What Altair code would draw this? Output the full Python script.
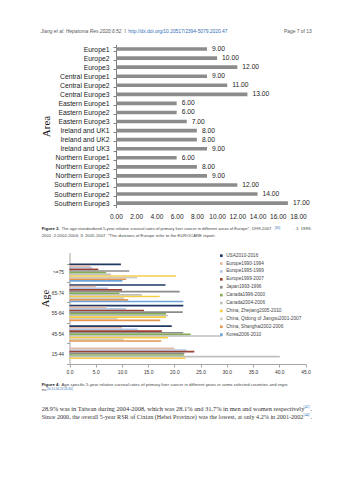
import altair as alt
import pandas as pd

# ---------------- Figure 3 data ----------------
areas = ["Europe1", "Europe2", "Europe3",
         "Central Europe1", "Central Europe2", "Central Europe3",
         "Eastern Europe1", "Eastern Europe2", "Eastern Europe3",
         "Ireland and UK1", "Ireland and UK2", "Ireland and UK3",
         "Northern Europe1", "Northern Europe2", "Northern Europe3",
         "Southern Europe1", "Southern Europe2", "Southern Europe3"]
area_rsr = [9, 10, 12, 9, 11, 13, 6, 6, 7, 8, 8, 9, 6, 8, 9, 12, 14, 17]
fig3_ticks = [0, 2, 4, 6, 8, 10, 12, 14, 16, 18]

# ---------------- Figure 4 data ----------------
age_groups = [">=75", "65-74", "55-64", "45-54", "15-44"]
series_names = ["USA2010-2016", "Europe1990-1994", "Europe1995-1999", "Europe1999-2007",
                "Japan1993-1996", "Canada1996-2000", "Canada2004-2006",
                "China, Zhejiang2005-2010", "China, Qidong of Jiangsu2001-2007",
                "China, Shanghai2002-2006", "Korea2006-2010"]
usa_2010 = [9.8, 18.3, 21.7, 19.5, None]
europe_1990 = [4.0, 5.0, 7.0, 10.0, 20.0]
europe_1995 = [4.3, 7.3, 10.8, 13.0, 22.3]
europe_1999 = [5.5, 10.0, 14.2, 17.6, 23.8]
japan_1993 = [11.4, 21.0, 21.6, 21.7, 21.9]
canada_1996 = [7.0, 9.5, 18.4, 23.1, 21.8]
canada_2004 = [7.9, 13.8, 18.8, 29.0, 40.1]
zhejiang_2005 = [20.3, 17.2, 18.4, 18.8, 22.1]
qidong_2001 = [12.9, 10.4, 9.2, 10.3, None]
shanghai_2002 = [10.8, 11.2, 17.3, 17.5, None]
korea_2006 = [10.1, 21.7, None, None, None]
series_colors = ["#203864", "#E6B9A0", "#B4C7E7", "#9A4332", "#8C8C8C", "#83AE56",
                 "#BFBFBF", "#F4CE45", "#D0CCC0", "#E39650", "#6FA3D8"]
fig4_ticks = [0, 5, 10, 15, 20, 25, 30, 35, 40, 45]

# ---------------- Page text ----------------
header_left = "Jiang et al. Hepatoma Res 2020;6:52"
header_sep = "I"
header_url = "http://dx.doi.org/10.20517/2394-5079.2020.47"
header_page = "Page 7 of 13"
fig3_cap_bold = "Figure 3."
fig3_cap_1 = "The age-standardized 5-year relative survival rates of primary liver cancer in different areas of Europe*, 1999-2007"
fig3_cap_ref = "[36]"
fig3_cap_1b = ". 1: 1999-"
fig3_cap_2 = "2001; 2:2002-2004; 3: 2005-2007. *The divisions of Europe refer to the EUROCARE report."
fig4_cap_bold = "Figure 4."
fig4_cap_1 = "Age-specific 5-year relative survival rates of primary liver cancer in different years in some selected countries and regio"
fig4_cap_2 = "ns"
fig4_cap_ref = "[10,15,16,23,26-30]"
body_1 = "28.9% was in Taiwan during 2004-2008, which was 28.1% and 31.7% in men and women respectively"
body_1_ref = "[43]"
body_2 = "Since 2000, the overall 5-year RSR of Cixian (Hebei Province) was the lowest, at only 4.2% in 2001-2002"
body_2_ref = "[44]"

SANS = "Liberation Sans"
SERIF = "Liberation Serif"
PAGE_H = 480

# ---------------- Figure 3 ----------------
fig3_df = pd.DataFrame({"area": areas, "rsr": area_rsr})
x3_scale = alt.Scale(domain=[0, 18], range=[116, 298], nice=False, zero=True)
y3_scale = alt.Scale(range=[44.5, 207.6], paddingInner=0.6, paddingOuter=0.3)
x3 = alt.X("rsr:Q", scale=x3_scale,
           axis=alt.Axis(orient="bottom", offset=207.6 - PAGE_H, values=fig3_ticks,
                         format=".2f", domain=False, ticks=False, grid=False,
                         labelOverlap=False, labelFlush=False,
                         labelPadding=6, labelFontSize=6.6, labelFont=SANS,
                         labelColor="#222222", title=None))
y3 = alt.Y("area:N", sort=areas, scale=y3_scale,
           axis=alt.Axis(orient="left", offset=-116, grid=False, tickBand="extent",
                         tickSize=3, tickColor="#7F7F7F", domainColor="#7F7F7F",
                         labelFont=SANS, labelFontSize=6.8, labelColor="#222222",
                         labelPadding=4, labelOverlap=False,
                         title="Area", titleFont=SERIF, titleFontSize=11,
                         titleFontWeight="normal", titleColor="#111111",
                         titleAngle=-90, titleX=-65, titleY=126))

bars3 = alt.Chart(fig3_df).mark_bar(color="#8C8C8C").encode(x=x3, y=y3)
labels3 = alt.Chart(fig3_df).mark_text(
    align="left", baseline="middle", dx=5, fontSize=6.7, font=SANS, color="#222222"
).encode(x=x3, y=y3, text=alt.Text("rsr:Q", format=".2f"))
fig3 = alt.layer(bars3, labels3)

# ---------------- Figure 4 ----------------
series_values = [usa_2010, europe_1990, europe_1995, europe_1999, japan_1993,
                 canada_1996, canada_2004, zhejiang_2005, qidong_2001,
                 shanghai_2002, korea_2006]
rows = []
for name, vals in zip(series_names, series_values):
    for age, v in zip(age_groups, vals):
        if v is not None:
            rows.append({"age": age, "series": name, "rsr": v})
fig4_df = pd.DataFrame(rows)

fig4 = alt.Chart(fig4_df).mark_bar().encode(
    x=alt.X("rsr:Q", scale=alt.Scale(domain=[0, 45], range=[69.5, 305.5], nice=False),
            axis=alt.Axis(orient="bottom", offset=364 - PAGE_H, values=fig4_ticks,
                          format=".1f", grid=False, tickSize=3, tickColor="#A6A6A6",
                          domainColor="#A6A6A6", labelPadding=2, labelFontSize=4.9,
                          labelOverlap=False, labelFlush=False,
                          labelFont=SANS, labelColor="#333333", title=None)),
    y=alt.Y("age:N", sort=age_groups,
            scale=alt.Scale(range=[252.5, 364], paddingInner=0.12, paddingOuter=0.27, align=1),
            axis=alt.Axis(orient="left", offset=-69.5, grid=False, tickBand="extent",
                          tickSize=3, tickColor="#A6A6A6", domainColor="#A6A6A6",
                          labelFont=SANS, labelFontSize=4.8, labelColor="#333333",
                          labelPadding=3,
                          title="Age", titleFont=SERIF, titleFontSize=10.5,
                          titleFontWeight="normal", titleColor="#111111",
                          titleAngle=-90, titleX=-19, titleY=298)),
    yOffset=alt.YOffset("series:N", sort=series_names,
                        scale=alt.Scale(domain=series_names, paddingInner=0, paddingOuter=0)),
    color=alt.Color("series:N", sort=series_names,
                    scale=alt.Scale(domain=series_names, range=series_colors),
                    legend=alt.Legend(orient="none", legendX=219, legendY=253.3, title=None,
                                      labelFontSize=4.7, labelFont=SANS, labelColor="#444444",
                                      symbolType="square", symbolSize=7, symbolStrokeWidth=0,
                                      rowPadding=1.9, labelOffset=2.5, padding=0,
                                      labelLimit=200)),
)


# ---------------- Text helper ----------------
def text_at(s, x, y, size, color="#333333", font=SANS, weight="normal",
            style="normal", align="left"):
    return alt.Chart(pd.DataFrame({"k": [0]})).mark_text(
        align=align, baseline="middle", fontSize=size, font=font,
        fontWeight=weight, fontStyle=style, color=color
    ).encode(x=alt.value(x), y=alt.value(y), text=alt.value(s))


BLUE = "#2F6DB5"
texts = [
    text_at(header_left, 40.7, 32.3, 4.9, color="#555555", style="italic"),
    text_at(header_sep, 124.5, 32.3, 4.9, color="#555555"),
    text_at(header_url, 128.3, 32.3, 4.9, color=BLUE),
    text_at(header_page, 311.7, 32.3, 4.9, color="#555555", align="right"),
    text_at(fig3_cap_bold, 41.7, 229.3, 4.3, color="#222222", weight="bold"),
    text_at(fig3_cap_1, 61.5, 229.3, 4.15, color="#444444"),
    text_at(fig3_cap_ref, 275.0, 227.6, 3.0, color=BLUE),
    text_at(fig3_cap_1b, 311.7, 229.3, 4.3, color="#444444", align="right"),
    text_at(fig3_cap_2, 41.7, 236.0, 4.3, color="#444444"),
    text_at(fig4_cap_bold, 41.7, 385.0, 4.3, color="#222222", weight="bold"),
    text_at(fig4_cap_1, 61.5, 385.0, 4.3, color="#444444"),
    text_at(fig4_cap_2, 41.7, 390.0, 4.3, color="#444444"),
    text_at(fig4_cap_ref, 46.5, 388.6, 3.0, color=BLUE),
    text_at(body_1, 41.7, 409.3, 6.4, color="#333333", font=SERIF),
    text_at(body_1_ref, 303.5, 407.0, 3.6, color=BLUE, font=SERIF),
    text_at(".", 310.5, 409.3, 6.4, color="#333333", font=SERIF),
    text_at(body_2, 41.7, 416.8, 6.15, color="#333333", font=SERIF),
    text_at(body_2_ref, 303.5, 414.5, 3.6, color=BLUE, font=SERIF),
    text_at(".", 310.5, 416.8, 6.15, color="#333333", font=SERIF),
]

chart = alt.layer(fig3, fig4, *texts).resolve_scale(
    x="independent", y="independent", color="independent"
).properties(
    width=353, height=PAGE_H, padding=0,
    autosize=alt.AutoSizeParams(type="none"),
    background="white",
).configure_view(stroke=None)

chart.save("out.html", embed_options={"renderer": "svg", "actions": False})
